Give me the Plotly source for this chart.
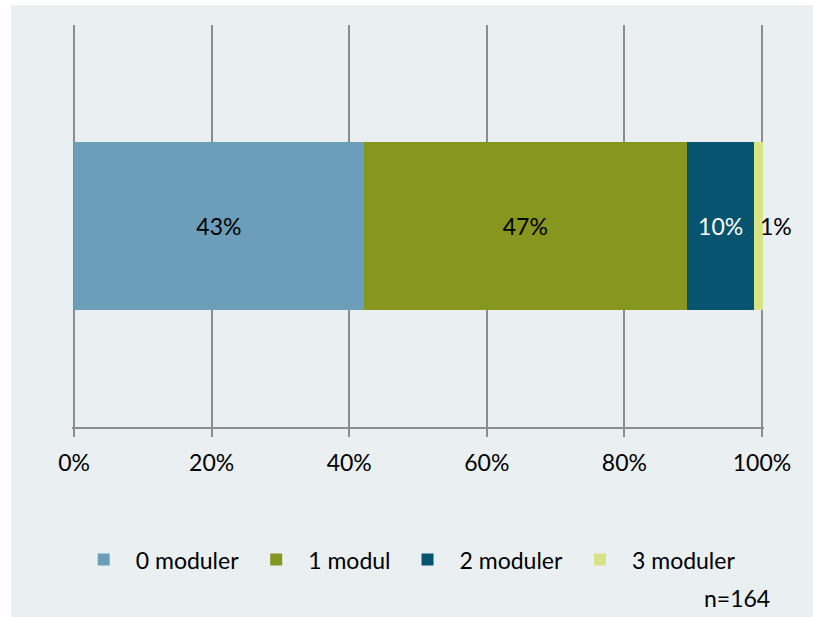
import plotly.graph_objects as go

categories = ["0 moduler", "1 modul", "2 moduler", "3 moduler"]
shares = [0.421, 0.470, 0.098, 0.012]
labels = ["43%", "47%", "10%", "1%"]
colors = ["#6c9eb9", "#87961e", "#065470", "#d7e384"]
label_colors = ["black", "black", "white", "black"]
note = "n=164"

bg = "#eaeff2"
font = "Lato, sans-serif"
fsize = 23

fig = go.Figure()
for i, (name, v, t, c, tc) in enumerate(zip(categories, shares, labels, colors, label_colors)):
    last = i == len(categories) - 1
    fig.add_trace(
        go.Bar(
            y=[""],
            x=[v],
            name=name,
            orientation="h",
            text=None if last else [t],
            textposition="inside",
            insidetextanchor="middle",
            textfont=dict(color=tc, size=fsize, family=font),
            constraintext="none",
            marker=dict(color=c, line=dict(width=0)),
            hoverinfo="skip",
        )
    )

# the thin last segment gets its label just past the bar end
total = sum(shares)
annots = [
    dict(
        text=labels[-1],
        x=min(total, 1.0),
        y=0,
        xref="x",
        yref="y",
        xanchor="left",
        yanchor="middle",
        xshift=-4,
        showarrow=False,
        font=dict(size=fsize, color=label_colors[-1]),
    ),
    dict(
        text=note,
        xref="paper",
        yref="paper",
        x=1.012,
        y=-0.425,
        xanchor="right",
        yanchor="middle",
        showarrow=False,
        font=dict(size=fsize),
    ),
]

fig.update_layout(
    width=813,
    height=617,
    barmode="stack",
    bargap=0.582,
    paper_bgcolor="white",
    plot_bgcolor=bg,
    margin=dict(l=72, r=49, t=25, b=190),
    font=dict(family=font, size=fsize, color="black"),
    showlegend=True,
    legend=dict(
        orientation="h",
        x=0.483,
        xanchor="center",
        y=-0.33,
        yanchor="middle",
        font=dict(size=fsize),
        itemwidth=54,
        bgcolor="rgba(0,0,0,0)",
        traceorder="normal",
    ),
    shapes=[
        dict(
            type="rect",
            xref="paper",
            yref="paper",
            x0=-0.0882,
            x1=1.08,
            y0=-0.48,
            y1=1.0498,
            fillcolor=bg,
            line=dict(width=0),
            layer="below",
        )
    ],
    annotations=annots,
)

fig.update_xaxes(
    range=[-0.003, 1.003],
    tickvals=[0, 0.2, 0.4, 0.6, 0.8, 1.0],
    tickformat=".0%",
    showgrid=True,
    gridcolor="#8c8c8c",
    gridwidth=1.5,
    showline=True,
    linecolor="#8c8c8c",
    linewidth=1.5,
    ticks="outside",
    ticklen=8,
    tickcolor="#8c8c8c",
    tickwidth=1.5,
    zeroline=False,
    tickfont=dict(size=fsize),
    ticklabelstandoff=7,
)
fig.update_yaxes(range=[-0.5, 0.5], showticklabels=False, showgrid=False, zeroline=False)

fig.write_html(
    "out.html",
    config={"displayModeBar": False},
    post_script="document.body.style.margin='0';",
)
